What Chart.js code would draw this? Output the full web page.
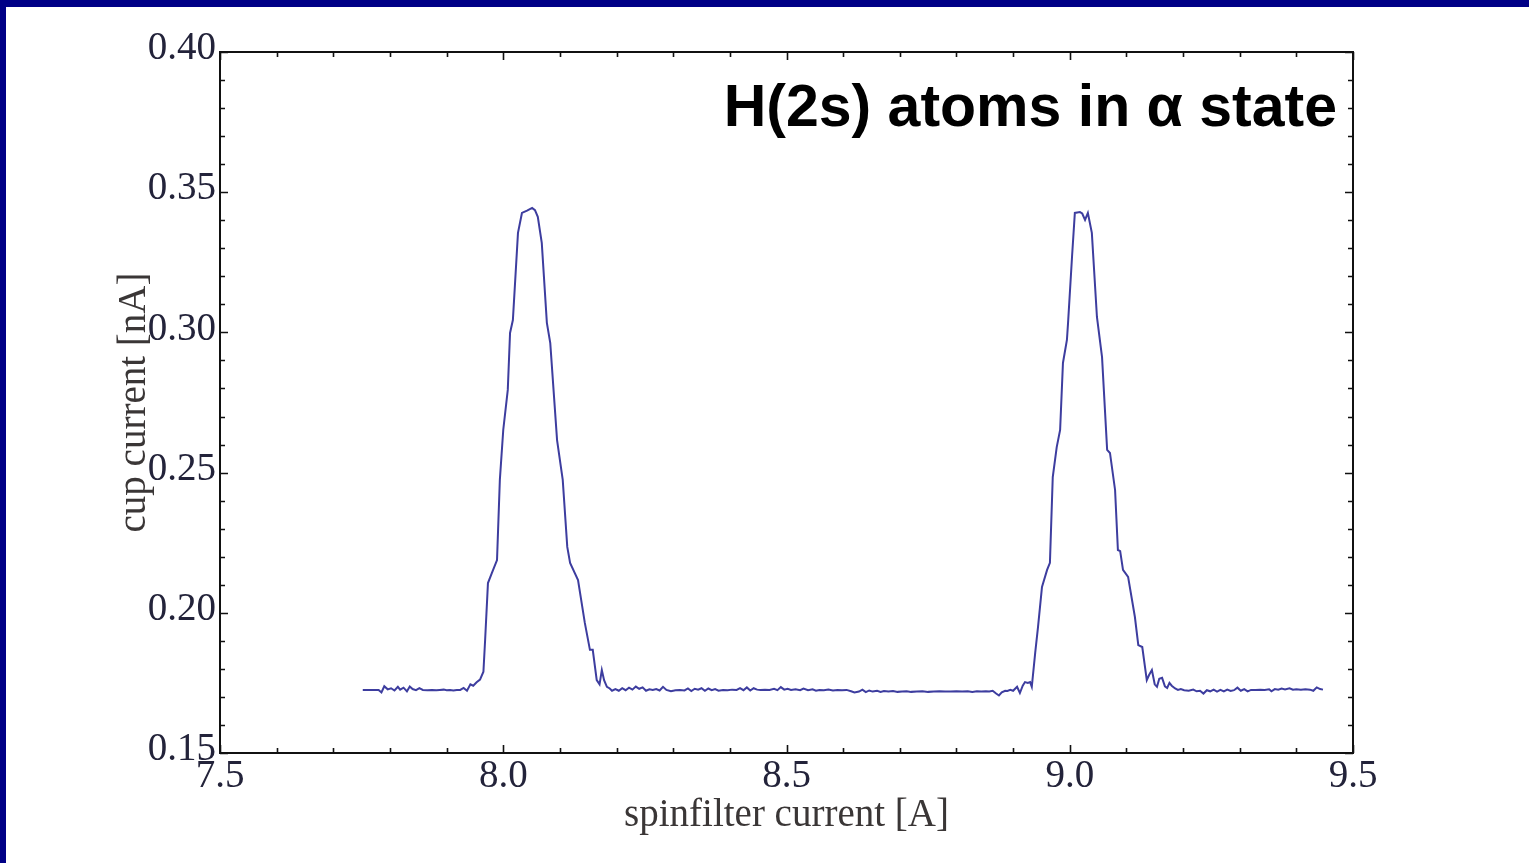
<!DOCTYPE html>
<html>
<head>
<meta charset="utf-8">
<title>H(2s) atoms in α state</title>
<script src="https://cdn.jsdelivr.net/npm/chart.js@4.4.1/dist/chart.umd.min.js"></script>
<style>
  html, body { margin: 0; padding: 0; background: #fff; }
  #frame {
    position: absolute; left: 0; top: 0;
    width: 1529px; height: 863px;
    box-sizing: border-box;
    border-top: 7px solid #000086;
    border-left: 6px solid #000086;
    background: #fff;
  }
  canvas { display: block; }
</style>
</head>
<body>
<div id="frame"><canvas id="chart" width="1523" height="856"></canvas></div>
<script>
// spinfilter current [A]
const spinfilterCurrent = [
  7.752, 7.770, 7.780, 7.785, 7.790, 7.796, 7.802, 7.808, 7.814, 7.818, 7.824, 7.830, 7.835, 7.840, 7.846,
  7.852, 7.858, 7.866, 7.874, 7.882, 7.888, 7.895, 7.900, 7.906, 7.912, 7.918, 7.924, 7.930, 7.936, 7.942,
  7.947, 7.953, 7.959,
  // first peak
  7.965, 7.968, 7.973, 7.980, 7.989, 7.994, 8.000, 8.008, 8.012, 8.017, 8.026, 8.033, 8.042, 8.051, 8.056,
  8.061, 8.068, 8.077, 8.083, 8.095, 8.105, 8.113, 8.118, 8.132, 8.144, 8.153, 8.158, 8.165, 8.170, 8.174,
  8.178, 8.183, 8.188, 8.192,
  // between peaks
  8.198, 8.204, 8.210, 8.216, 8.222, 8.228, 8.234, 8.240, 8.246, 8.252, 8.258, 8.264, 8.270, 8.276, 8.282,
  8.288, 8.296, 8.304, 8.312, 8.320, 8.326, 8.332, 8.338, 8.344, 8.350, 8.356, 8.362, 8.368, 8.374, 8.380,
  8.388, 8.396, 8.404, 8.412, 8.418, 8.424, 8.430, 8.436, 8.442, 8.448, 8.454, 8.462, 8.470, 8.478, 8.484,
  8.490, 8.496, 8.502, 8.508, 8.516, 8.524, 8.530, 8.538, 8.546, 8.552, 8.558, 8.566, 8.574, 8.582, 8.590,
  8.598, 8.606, 8.614, 8.620, 8.628, 8.634, 8.640, 8.646, 8.652, 8.660, 8.666, 8.672, 8.680, 8.688, 8.696,
  8.704, 8.712, 8.720, 8.730, 8.740, 8.750, 8.760, 8.770, 8.780, 8.790, 8.800, 8.810, 8.820, 8.828, 8.836,
  8.844, 8.852, 8.858, 8.864, 8.870, 8.875, 8.880, 8.886, 8.890,
  // second peak
  8.895, 8.900, 8.907, 8.912, 8.917, 8.921, 8.926, 8.930, 8.933, 8.939, 8.944, 8.951, 8.960, 8.965, 8.970,
  8.977, 8.983, 8.988, 8.995, 8.997, 9.004, 9.009, 9.018, 9.022, 9.027, 9.032, 9.039, 9.048, 9.057, 9.066,
  9.071, 9.080, 9.085, 9.089, 9.094, 9.103, 9.115, 9.121, 9.128, 9.136, 9.140, 9.145, 9.150, 9.154, 9.158,
  9.163, 9.168, 9.172, 9.176, 9.180, 9.186, 9.191, 9.196,
  // tail
  9.202, 9.210, 9.218, 9.224, 9.230, 9.236, 9.242, 9.248, 9.254, 9.260, 9.266, 9.272, 9.278, 9.284, 9.290,
  9.296, 9.302, 9.308, 9.314, 9.320, 9.328, 9.336, 9.344, 9.352, 9.356, 9.362, 9.368, 9.374, 9.380, 9.388,
  9.394, 9.400, 9.408, 9.416, 9.424, 9.430, 9.436, 9.442, 9.447
];

// cup current [nA]
const cupCurrent = [
  0.1725, 0.1725, 0.1725, 0.1716, 0.1738, 0.1727, 0.1731, 0.1723, 0.1736, 0.1726, 0.1733, 0.1720, 0.1737, 0.1728, 0.1724,
  0.1731, 0.1725, 0.1724, 0.1725, 0.1724, 0.1725, 0.1726, 0.1724, 0.1725, 0.1723, 0.1725, 0.1725, 0.1732, 0.1722, 0.1745,
  0.1740, 0.1752, 0.1762,
  0.1790, 0.1903, 0.2106, 0.2142, 0.2188, 0.2474, 0.2652, 0.2795, 0.2998, 0.3044, 0.3355, 0.3426, 0.3434, 0.3444, 0.3436,
  0.3412, 0.3319, 0.3034, 0.2962, 0.2616, 0.2474, 0.2235, 0.2178, 0.2117, 0.1964, 0.1868, 0.1868, 0.1760, 0.1745, 0.1796,
  0.1760, 0.1736, 0.1730, 0.1722,
  0.1728, 0.1722, 0.1731, 0.1724, 0.1733, 0.1726, 0.1737, 0.1729, 0.1734, 0.1722, 0.1727, 0.1725, 0.1728, 0.1723, 0.1736,
  0.1725, 0.1720, 0.1724, 0.1725, 0.1723, 0.1730, 0.1721, 0.1729, 0.1726, 0.1731, 0.1722, 0.1730, 0.1724, 0.1728, 0.1722,
  0.1725, 0.1724, 0.1726, 0.1725, 0.1731, 0.1724, 0.1734, 0.1723, 0.1731, 0.1726, 0.1725, 0.1726, 0.1725, 0.1729, 0.1724,
  0.1735, 0.1726, 0.1729, 0.1725, 0.1727, 0.1724, 0.1730, 0.1724, 0.1727, 0.1722, 0.1725, 0.1724, 0.1726, 0.1723, 0.1725,
  0.1724, 0.1725, 0.1720, 0.1716, 0.1719, 0.1726, 0.1717, 0.1723, 0.1719, 0.1722, 0.1718, 0.1721, 0.1719, 0.1721, 0.1718,
  0.1719, 0.1720, 0.1718, 0.1719, 0.1720, 0.1718, 0.1719, 0.1720, 0.1719, 0.1719, 0.1720, 0.1719, 0.1720, 0.1718, 0.1720,
  0.1719, 0.1720, 0.1719, 0.1722, 0.1712, 0.1705, 0.1716, 0.1722, 0.1721,
  0.1725, 0.1722, 0.1736, 0.1714, 0.1740, 0.1753, 0.1750, 0.1753, 0.1736, 0.1857, 0.1950, 0.2092, 0.2153, 0.2178, 0.2484,
  0.2591, 0.2652, 0.2891, 0.2973, 0.3034, 0.3269, 0.3426, 0.3429, 0.3424, 0.3401, 0.3426, 0.3355, 0.3055, 0.2912, 0.2581,
  0.2570, 0.2438, 0.2224, 0.2220, 0.2153, 0.2128, 0.1985, 0.1885, 0.1878, 0.1760, 0.1778, 0.1796, 0.1745, 0.1736, 0.1765,
  0.1768, 0.1738, 0.1732, 0.1750, 0.1740, 0.1730, 0.1725, 0.1728,
  0.1724, 0.1722, 0.1726, 0.1720, 0.1722, 0.1712, 0.1724, 0.1720, 0.1726, 0.1719, 0.1725, 0.1720, 0.1726, 0.1721, 0.1724,
  0.1733, 0.1722, 0.1728, 0.1720, 0.1725, 0.1725, 0.1726, 0.1725, 0.1727, 0.1720, 0.1728, 0.1726, 0.1730, 0.1727, 0.1731,
  0.1726, 0.1727, 0.1726, 0.1727, 0.1726, 0.1722, 0.1734, 0.1728, 0.1726
];

const xTicks = [7.5, 8.0, 8.5, 9.0, 9.5];
const yTicks = [0.15, 0.20, 0.25, 0.30, 0.35, 0.40];
const headline = 'H(2s) atoms in α state';

const serif = '"Liberation Serif", "Times New Roman", serif';
const labelColor = '#23233a';
const titleColor = '#3a3636';

// frame, inward ticks on all four sides, and the headline
const framePlugin = {
  id: 'frame',
  afterDraw(chart) {
    const { ctx, chartArea: a, scales } = chart;
    const xs = scales.x, ys = scales.y;
    ctx.save();
    ctx.strokeStyle = '#111';
    ctx.lineWidth = 2;
    ctx.strokeRect(a.left, a.top, a.right - a.left, a.bottom - a.top);

    ctx.lineWidth = 1.6;
    ctx.beginPath();
    for (let i = 0; i <= 20; i++) {
      const px = Math.round(xs.getPixelForValue(7.5 + i * 0.1)) + 0.5;
      const len = i % 5 === 0 ? 8 : 5;
      ctx.moveTo(px, a.bottom); ctx.lineTo(px, a.bottom - len);
      ctx.moveTo(px, a.top); ctx.lineTo(px, a.top + len);
    }
    for (let i = 0; i <= 25; i++) {
      const py = Math.round(ys.getPixelForValue(0.15 + i * 0.01)) + 0.5;
      const len = i % 5 === 0 ? 8 : 5;
      ctx.moveTo(a.left, py); ctx.lineTo(a.left + len, py);
      ctx.moveTo(a.right, py); ctx.lineTo(a.right - len, py);
    }
    ctx.stroke();

    ctx.fillStyle = '#000';
    ctx.font = 'bold 59px "Liberation Sans", Arial, sans-serif';
    ctx.textAlign = 'right';
    ctx.textBaseline = 'alphabetic';
    ctx.fillText(headline, a.right - 16, a.top + 74);
    ctx.restore();
  }
};

new Chart(document.getElementById('chart'), {
  type: 'scatter',
  data: {
    datasets: [{
      data: spinfilterCurrent.map((x, i) => ({ x: x, y: cupCurrent[i] })),
      showLine: true,
      borderColor: '#3d3d9f',
      borderWidth: 2,
      pointRadius: 0,
      tension: 0
    }]
  },
  options: {
    responsive: false,
    animation: false,
    devicePixelRatio: 1,
    layout: { padding: { top: 45, right: 176, bottom: 24, left: 105 } },
    plugins: { legend: { display: false }, tooltip: { enabled: false } },
    scales: {
      x: {
        type: 'linear',
        min: 7.5,
        max: 9.5,
        afterBuildTicks: (scale) => { scale.ticks = xTicks.map(v => ({ value: v })); },
        afterFit: (scale) => { scale.height = 86; },
        grid: { display: false, drawTicks: false },
        border: { display: false },
        ticks: {
          callback: (v) => Number(v).toFixed(1),
          font: { family: serif, size: 39 },
          color: labelColor,
          padding: 0,
          maxRotation: 0,
          autoSkip: false
        },
        title: {
          display: true,
          text: 'spinfilter current [A]',
          font: { family: serif, size: 39 },
          color: titleColor,
          padding: 0
        }
      },
      y: {
        type: 'linear',
        min: 0.15,
        max: 0.40,
        afterBuildTicks: (scale) => { scale.ticks = yTicks.map(v => ({ value: v })); },
        afterFit: (scale) => { scale.width = 109; },
        grid: { display: false, drawTicks: false },
        border: { display: false },
        ticks: {
          callback: (v) => Number(v).toFixed(2),
          font: { family: serif, size: 39 },
          color: labelColor,
          padding: 4,
          labelOffset: -3,
          autoSkip: false
        },
        title: {
          display: true,
          text: 'cup current [nA]',
          font: { family: serif, size: 39 },
          color: titleColor,
          padding: 0
        }
      }
    }
  },
  plugins: [framePlugin]
});
</script>
</body>
</html>
